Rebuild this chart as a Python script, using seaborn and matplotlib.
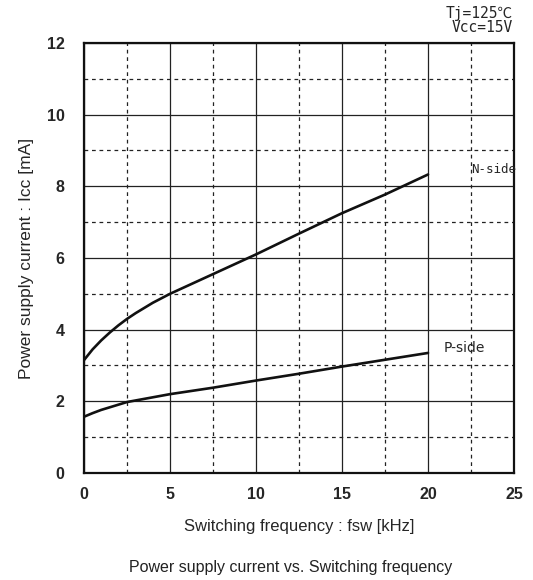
import numpy as np
import pandas as pd
import matplotlib
matplotlib.use("Agg")
import matplotlib.pyplot as plt
import seaborn as sns

# curve points
fsw_n = [0, 0.5, 1.0, 1.5, 2.0, 2.5, 3.0, 4.0, 5, 6, 7.5, 10, 12.5, 15, 17.5, 20]
icc_n = [3.15, 3.45, 3.70, 3.92, 4.12, 4.30, 4.46, 4.75, 5.0, 5.22, 5.55, 6.1, 6.68, 7.25, 7.77, 8.33]
fsw_p = [0, 0.5, 1.0, 2.5, 5, 7.5, 10, 12.5, 15, 17.5, 20]
icc_p = [1.57, 1.67, 1.76, 1.98, 2.2, 2.38, 2.58, 2.77, 2.97, 3.16, 3.35]

x_ticks = [0, 5, 10, 15, 20, 25]
y_ticks = [0, 2, 4, 6, 8, 10, 12]

sns.set_style("white")
plt.rcParams['font.family'] = ['Liberation Sans', 'DejaVu Sans']

df = pd.concat([
    pd.DataFrame({'fsw': fsw_n, 'icc': icc_n, 'side': 'N-side'}),
    pd.DataFrame({'fsw': fsw_p, 'icc': icc_p, 'side': 'P-side'}),
])

fig = plt.figure(figsize=(5.33, 5.8), dpi=100)
ax = fig.add_axes([0.1576, 0.1845, 0.8068, 0.7414])

sns.lineplot(data=df, x='fsw', y='icc', units='side', estimator=None,
             color='#111111', linewidth=1.9, ax=ax, legend=False)

ax.set_xlim(0, 25)
ax.set_ylim(0, 12)
ax.set_xticks(x_ticks)
ax.set_yticks(y_ticks)
ax.set_xticks(np.arange(2.5, 25, 5), minor=True)
ax.set_yticks(np.arange(1, 12, 2), minor=True)

ax.grid(which='major', color='#222222', linewidth=0.9, linestyle='-')
ax.grid(which='minor', color='#222222', linewidth=0.9, linestyle=(0, (3, 3)))
ax.tick_params(which='both', direction='in', length=5, width=1.2, color='#111111',
               labelsize=11.5)
ax.tick_params(axis='y', pad=14)
ax.tick_params(axis='x', pad=10)
ax.tick_params(which='minor', length=3)
for lab in ax.get_xticklabels() + ax.get_yticklabels():
    lab.set_fontweight('bold')

for s in ax.spines.values():
    s.set_color('#111111')
    s.set_linewidth(1.6)
    s.set_visible(True)

ax.set_xlabel('Switching frequency : fsw [kHz]', fontsize=12, labelpad=12)
ax.set_ylabel('Power supply current : Icc [mA]', fontsize=12.5, labelpad=9)

ax.text(22.5, 8.47, 'N-side', family='DejaVu Sans Mono', fontsize=9, va='center', ha='left')
ax.text(20.9, 3.5, 'P-side', family='DejaVu Sans', fontsize=10, va='center', ha='left')

mono = ['DejaVu Sans Mono', 'Noto Sans CJK JP']
fig.text(0.962, 0.977, 'Tj=125\u2103', family=mono, fontsize=10.5,
         ha='right', va='center')
fig.text(0.962, 0.953, 'Vcc=15V', family=mono, fontsize=10.5,
         ha='right', va='center')

fig.text(0.545, 0.022, 'Power supply current vs. Switching frequency',
         fontsize=11.5, ha='center', va='center', color='#222222')

fig.savefig('out.png', dpi=100)
